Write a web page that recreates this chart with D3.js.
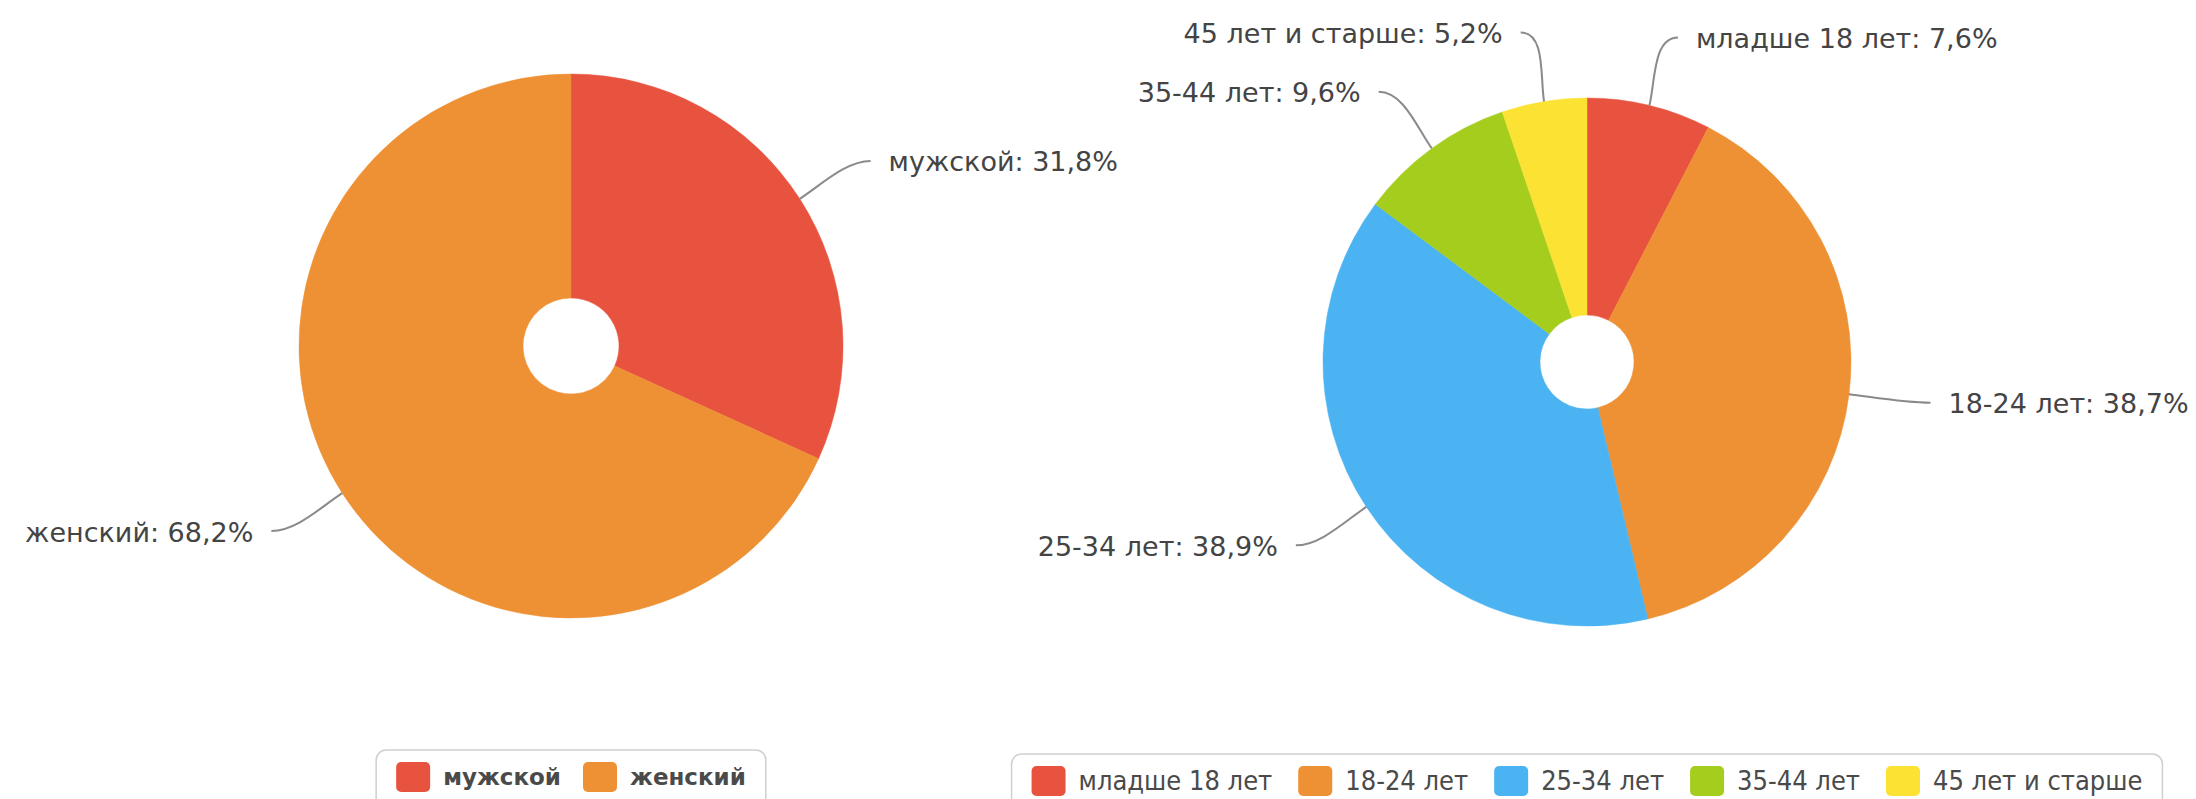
<!DOCTYPE html>
<html><head><meta charset="utf-8">
<script src="https://cdn.jsdelivr.net/npm/d3@7"></script>
<style>body{margin:0;background:#fff;overflow:hidden}</style>
</head><body>
<svg id="c" width="2196" height="799"></svg>
<script>
const genderCategories = ["мужской", "женский"];
const genderValues = [31.8, 68.2];
const genderColors = ["#E8533F", "#EE9034"];

const ageCategories = ["младше 18 лет", "18-24 лет", "25-34 лет", "35-44 лет", "45 лет и старше"];
const ageValues = [7.6, 38.7, 38.9, 9.6, 5.2];
const ageColors = ["#E8533F", "#EE9034", "#4BB3F2", "#A4CD1E", "#FBE233"];

const svg = d3.select("#c");

function fmt(v){ return String(v).replace(".", ",") + "%"; }

function drawPie(o){
  const data = o.cats.map((c,i)=>({name:c, value:o.vals[i], color:o.colors[i]}));
  const pie = d3.pie().sort(null).value(d=>d.value).startAngle(0).endAngle(2*Math.PI);
  const arcs = pie(data);
  const arc = d3.arc().innerRadius(o.inner).outerRadius(o.r);
  const g = svg.append("g").attr("transform", `translate(${o.cx},${o.cy})`);
  g.selectAll("path.s").data(arcs).join("path").attr("class","s")
    .attr("d", arc).attr("fill", d=>d.data.color)
    .attr("stroke", d=>d.data.color).attr("stroke-width",0.5);

  const R = o.r + o.dist;
  arcs.forEach(a=>{
    const m = (a.startAngle + a.endAngle)/2;
    const sx = Math.sin(m), sy = -Math.cos(m);
    const s = sx >= 0 ? 1 : -1;
    const E = [o.r*sx, o.r*sy];
    const L = [R*sx, R*sy];
    const A = [L[0] + s*12, L[1]];
    const c1 = [E[0] + 25*sx, E[1] + 25*sy];
    const c2 = [A[0] - s*25, A[1]];
    g.append("path")
      .attr("d", `M${E[0]},${E[1]} C${c1[0]},${c1[1]} ${c2[0]},${c2[1]} ${A[0]},${A[1]}`)
      .attr("fill","none").attr("stroke","#8a8a8a").attr("stroke-width",2);
    g.append("text")
      .attr("x", L[0] + s*30).attr("y", L[1] + 3)
      .attr("text-anchor", s>0 ? "start" : "end")
      .attr("dominant-baseline","middle")
      .attr("font-family","DejaVu Sans")
      .attr("font-size", 27).attr("fill","#444")
      .text(a.data.name + ": " + fmt(a.data.value));
  });

  // legend
  const lg = svg.append("g");
  const box = lg.append("rect");
  let x = 0;
  data.forEach((d,i)=>{
    if(i>0) x += o.lgGap;
    lg.append("rect").attr("x", x).attr("y", o.lgTop + 12)
      .attr("width", 34).attr("height", 30).attr("rx", 5).attr("fill", d.color);
    const t = lg.append("text").attr("x", x + 34 + 13).attr("y", o.lgTop + 28)
      .attr("dominant-baseline","middle")
      .attr("font-family", o.lgFont).attr("font-weight", o.lgWeight)
      .attr("font-size", o.lgSize).attr("fill","#4a4a4a").text(d.name);
    x += 34 + 13 + t.node().getComputedTextLength();
  });
  const pad = 20;
  const total = x + 2*pad;
  const left = o.cx - total/2;
  lg.attr("transform", `translate(${left + pad},0)`);
  box.attr("x", -pad).attr("y", o.lgTop).attr("width", total).attr("height", 80)
    .attr("rx", 10).attr("fill","#fff").attr("stroke","#cfcfcf").attr("stroke-width",1.5);
}

drawPie({cats:genderCategories, vals:genderValues, colors:genderColors,
  cx:571, cy:346, r:272, inner:48, dist:70,
  lgTop:750, lgGap:22, lgFont:"DejaVu Sans", lgWeight:"bold", lgSize:23});
drawPie({cats:ageCategories, vals:ageValues, colors:ageColors,
  cx:1587, cy:362, r:264, inner:47, dist:70,
  lgTop:754, lgGap:26, lgFont:"DejaVu Sans Condensed", lgWeight:"normal", lgSize:27});
</script>
</body></html>
